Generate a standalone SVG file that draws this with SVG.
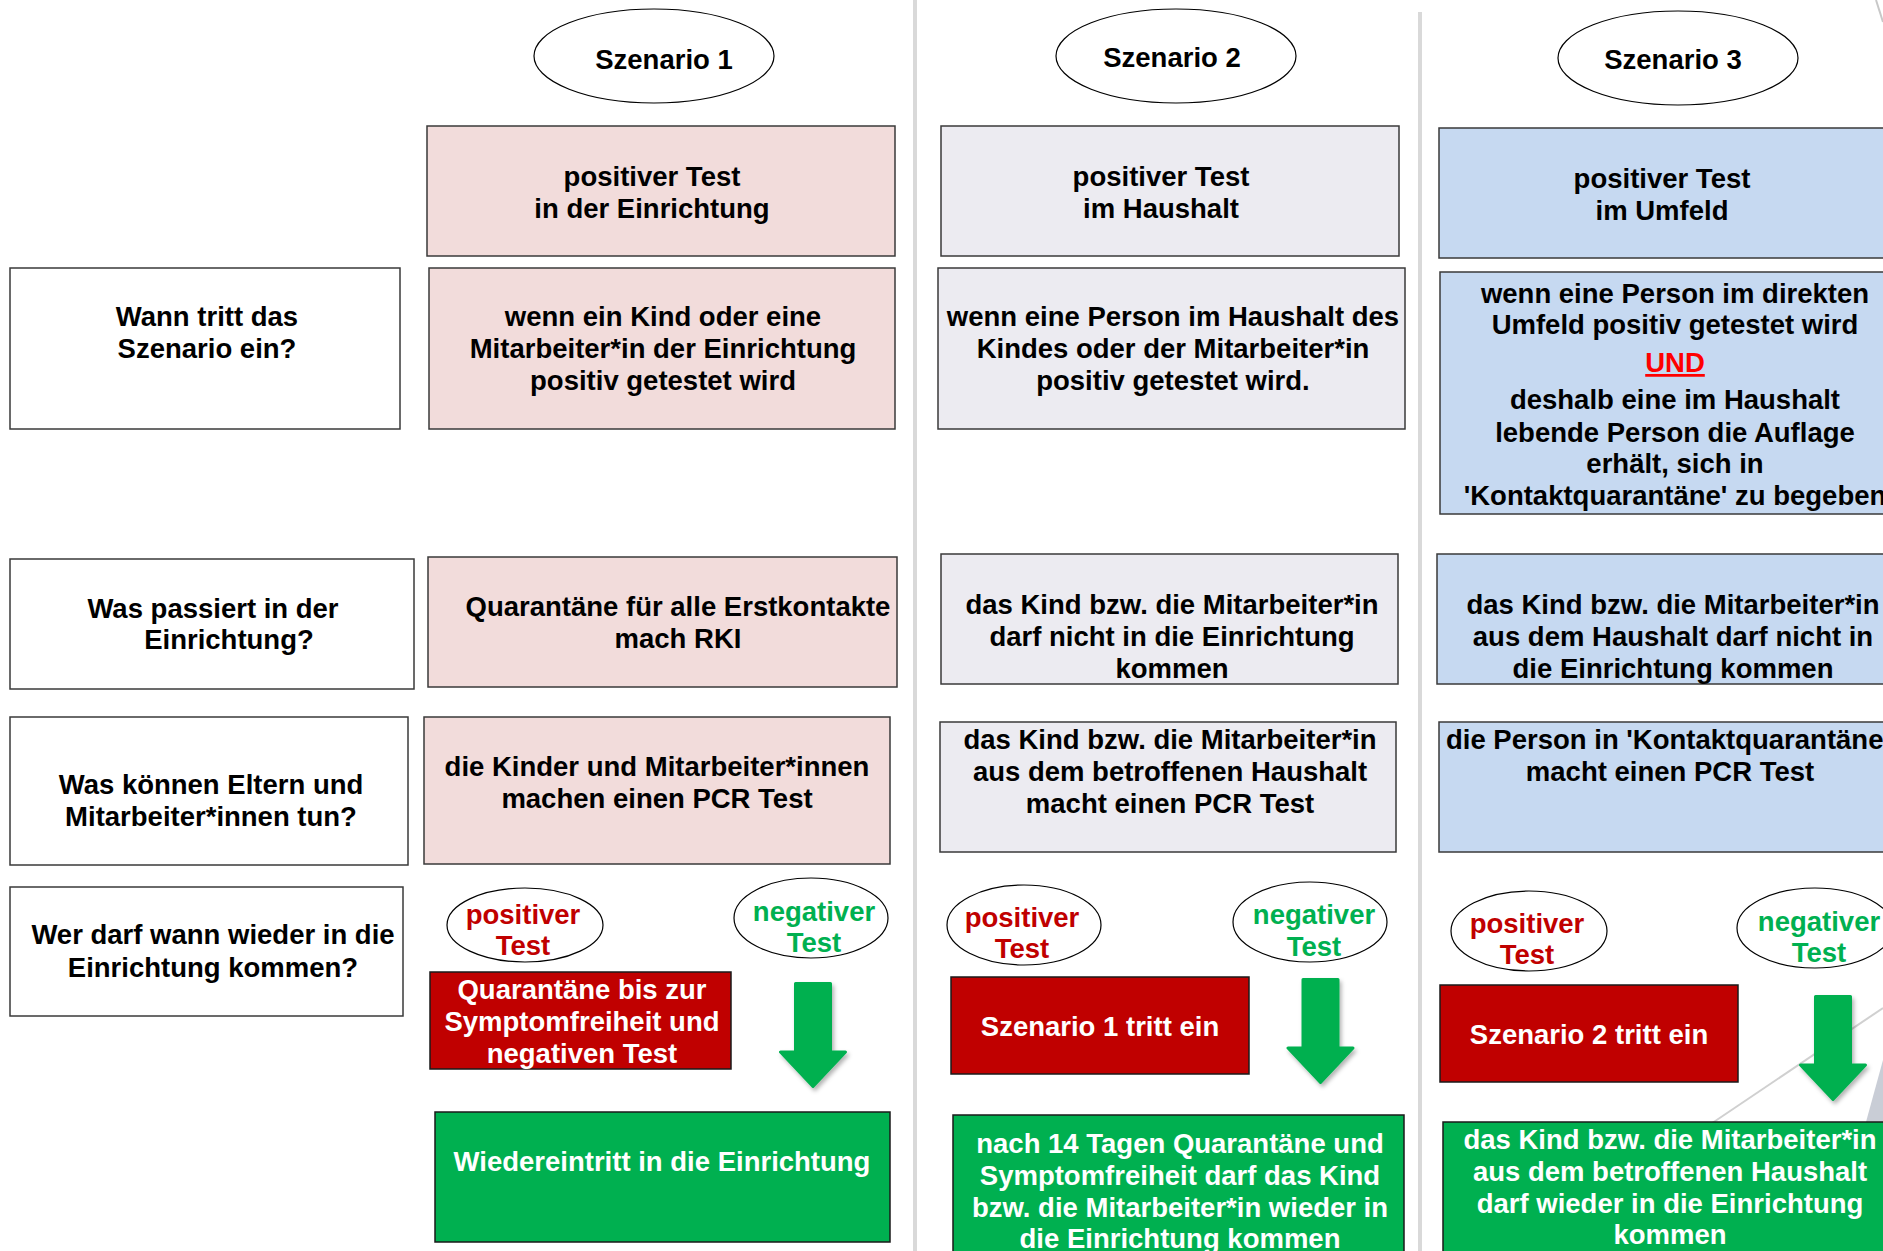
<svg xmlns="http://www.w3.org/2000/svg" width="1883" height="1251" viewBox="0 0 1883 1251">
<style>
text{font-family:"Liberation Sans",Arial,sans-serif;font-weight:bold;font-size:27.5px;text-anchor:middle;fill:#000}
.box{stroke:#3a3a3a;stroke-width:1.5}
.q{fill:#ffffff}
.pink{fill:#f2dcdb}
.lav{fill:#ecebf1}
.blue{fill:#c6d9f1}
.red{fill:#c00000;stroke:#1a1a1a;stroke-width:1.5}
.grn{fill:#00b050;stroke:#1a1a1a;stroke-width:1.5}
.ell{fill:#fff;stroke:#000;stroke-width:1.2}
.w{fill:#fff}
.rt{fill:#c00000}
.gt{fill:#00b050}
.sep{fill:#d9d9d9}
</style>
<defs>
<filter id="sh" x="-30%" y="-20%" width="160%" height="150%">
<feDropShadow dx="2" dy="3" stdDeviation="2" flood-color="#000" flood-opacity="0.3"/>
</filter>
<path id="arr" d="M-17.5,1.5 H17.5 V70 H32.5 L0,104.5 L-32.5,70 H-17.5 Z" fill="#00b050" stroke="#00b050" stroke-width="3" stroke-linejoin="round"/>
</defs>
<rect width="1883" height="1251" fill="#fff"/>

<!-- background decoration -->
<g id="background">
<line x1="1690" y1="1138" x2="1883" y2="1008" stroke="#d0d0d0" stroke-width="2"/>
<polygon points="1883,1060 1866,1122 1883,1122" fill="#c9cdd6"/>
<line x1="1876" y1="0" x2="1883" y2="22" stroke="#c8c8c8" stroke-width="2"/>
<rect class="sep" x="913" y="0" width="4" height="1251"/>
<rect class="sep" x="1418" y="12" width="4" height="1239"/>
</g>

<g transform="translate(0,1)">
<!-- headers -->
<g id="szenario1"><ellipse class="ell" cx="654" cy="55" rx="120" ry="47"/><text x="664" y="68">Szenario 1</text></g>
<g id="szenario2"><ellipse class="ell" cx="1176" cy="55" rx="120" ry="47"/><text x="1172" y="66">Szenario 2</text></g>
<g id="szenario3"><ellipse class="ell" cx="1678" cy="57" rx="120" ry="47"/><text x="1673" y="68">Szenario 3</text></g>
</g>

<!-- row A -->
<g id="a1"><rect class="box pink" x="427" y="126" width="468" height="130"/><text x="652" y="186">positiver Test</text><text x="652" y="218">in der Einrichtung</text></g>
<g id="a2"><rect class="box lav" x="941" y="126" width="458" height="130"/><text x="1161" y="186">positiver Test</text><text x="1161" y="218">im Haushalt</text></g>
<g id="a3"><rect class="box blue" x="1439" y="128" width="460" height="130"/><text x="1662" y="188">positiver Test</text><text x="1662" y="220">im Umfeld</text></g>

<!-- row B -->
<g id="q1"><rect class="box q" x="10" y="268" width="390" height="161"/><text x="207" y="326">Wann tritt das</text><text x="207" y="358">Szenario ein?</text></g>
<g id="b1"><rect class="box pink" x="429" y="268" width="466" height="161"/><text x="663" y="326">wenn ein Kind oder eine</text><text x="663" y="358">Mitarbeiter*in der Einrichtung</text><text x="663" y="390">positiv getestet wird</text></g>
<g id="b2"><rect class="box lav" x="938" y="268" width="467" height="161"/><text x="1173" y="326">wenn eine Person im Haushalt des</text><text x="1173" y="358">Kindes oder der Mitarbeiter*in</text><text x="1173" y="390">positiv getestet wird.</text></g>
<g id="b3"><rect class="box blue" x="1440" y="272" width="460" height="242"/>
<text x="1675" y="303">wenn eine Person im direkten</text>
<text x="1675" y="334">Umfeld positiv getestet wird</text>
<text x="1675" y="372" fill="#ff0000" style="fill:#ff0000" text-decoration="underline">UND</text>
<text x="1675" y="409">deshalb eine im Haushalt</text>
<text x="1675" y="442">lebende Person die Auflage</text>
<text x="1675" y="473">erhält, sich in</text>
<text x="1675" y="505">'Kontaktquarantäne' zu begeben</text></g>

<!-- row C -->
<g id="q2"><rect class="box q" x="10" y="559" width="404" height="130"/><text x="213" y="618">Was passiert in der</text><text x="229" y="649">Einrichtung?</text></g>
<g id="c1"><rect class="box pink" x="428" y="557" width="469" height="130"/><text x="678" y="616">Quarantäne für alle Erstkontakte</text><text x="678" y="648">mach RKI</text></g>
<g id="c2"><rect class="box lav" x="941" y="554" width="457" height="130"/><text x="1172" y="614">das Kind bzw. die Mitarbeiter*in</text><text x="1172" y="646">darf nicht in die Einrichtung</text><text x="1172" y="678">kommen</text></g>
<g id="c3"><rect class="box blue" x="1437" y="554" width="462" height="130"/><text x="1673" y="614">das Kind bzw. die Mitarbeiter*in</text><text x="1673" y="646">aus dem Haushalt darf nicht in</text><text x="1673" y="678">die Einrichtung kommen</text></g>

<!-- row D -->
<g id="q3"><rect class="box q" x="10" y="717" width="398" height="148"/><text x="211" y="794">Was können Eltern und</text><text x="211" y="826">Mitarbeiter*innen tun?</text></g>
<g id="d1"><rect class="box pink" x="424" y="717" width="466" height="147"/><text x="657" y="776">die Kinder und Mitarbeiter*innen</text><text x="657" y="808">machen einen PCR Test</text></g>
<g id="d2"><rect class="box lav" x="940" y="722" width="456" height="130"/><text x="1170" y="749">das Kind bzw. die Mitarbeiter*in</text><text x="1170" y="781">aus dem betroffenen Haushalt</text><text x="1170" y="813">macht einen PCR Test</text></g>
<g id="d3"><rect class="box blue" x="1439" y="722" width="460" height="130"/><text x="1668" y="749">die Person in 'Kontaktquarantäne'</text><text x="1670" y="781">macht einen PCR Test</text></g>

<!-- row E -->
<g id="q4"><rect class="box q" x="10" y="887" width="393" height="129"/><text x="213" y="944">Wer darf wann wieder in die</text><text x="213" y="977">Einrichtung kommen?</text></g>

<g id="pos1"><ellipse class="ell" cx="525" cy="925" rx="78" ry="37"/><text class="rt" x="523" y="924">positiver</text><text class="rt" x="523" y="955">Test</text></g>
<g id="neg1"><ellipse class="ell" cx="811" cy="918" rx="77" ry="40"/><text class="gt" x="814" y="921">negativer</text><text class="gt" x="814" y="952">Test</text></g>
<g id="pos2"><ellipse class="ell" cx="1024" cy="925" rx="77" ry="40"/><text class="rt" x="1022" y="927">positiver</text><text class="rt" x="1022" y="958">Test</text></g>
<g id="neg2"><ellipse class="ell" cx="1310" cy="922" rx="77" ry="40"/><text class="gt" x="1314" y="924">negativer</text><text class="gt" x="1314" y="956">Test</text></g>
<g id="pos3"><ellipse class="ell" cx="1529" cy="931" rx="78" ry="40"/><text class="rt" x="1527" y="933">positiver</text><text class="rt" x="1527" y="964">Test</text></g>
<g id="neg3"><ellipse class="ell" cx="1815" cy="928" rx="78" ry="40"/><text class="gt" x="1819" y="931">negativer</text><text class="gt" x="1819" y="962">Test</text></g>

<g id="red1"><rect class="red" x="430" y="972" width="301" height="97"/><text class="w" x="582" y="999">Quarantäne bis zur</text><text class="w" x="582" y="1031">Symptomfreiheit und</text><text class="w" x="582" y="1063">negativen Test</text></g>
<g id="red2"><rect class="red" x="951" y="977" width="298" height="97"/><text class="w" x="1100" y="1036">Szenario 1 tritt ein</text></g>
<g id="red3"><rect class="red" x="1440" y="985" width="298" height="97"/><text class="w" x="1589" y="1044">Szenario 2 tritt ein</text></g>

<g id="green1"><rect class="grn" x="435" y="1112" width="455" height="130"/><text class="w" x="662" y="1171">Wiedereintritt in die Einrichtung</text></g>
<g id="green2"><rect class="grn" x="953" y="1115" width="451" height="150"/><text class="w" x="1180" y="1153">nach 14 Tagen Quarantäne und</text><text class="w" x="1180" y="1185">Symptomfreiheit darf das Kind</text><text class="w" x="1180" y="1217">bzw. die Mitarbeiter*in wieder in</text><text class="w" x="1180" y="1248">die Einrichtung kommen</text></g>
<g id="green3"><rect class="grn" x="1443" y="1122" width="460" height="140"/><text class="w" x="1670" y="1149">das Kind bzw. die Mitarbeiter*in</text><text class="w" x="1670" y="1181">aus dem betroffenen Haushalt</text><text class="w" x="1670" y="1213">darf wieder in die Einrichtung</text><text class="w" x="1670" y="1244">kommen</text></g>

<!-- connectors -->
<g id="connectors" filter="url(#sh)">
<use href="#arr" x="813" y="982"/>
<use href="#arr" x="1320.5" y="978"/>
<use href="#arr" x="1833" y="995"/>
</g>
</svg>
